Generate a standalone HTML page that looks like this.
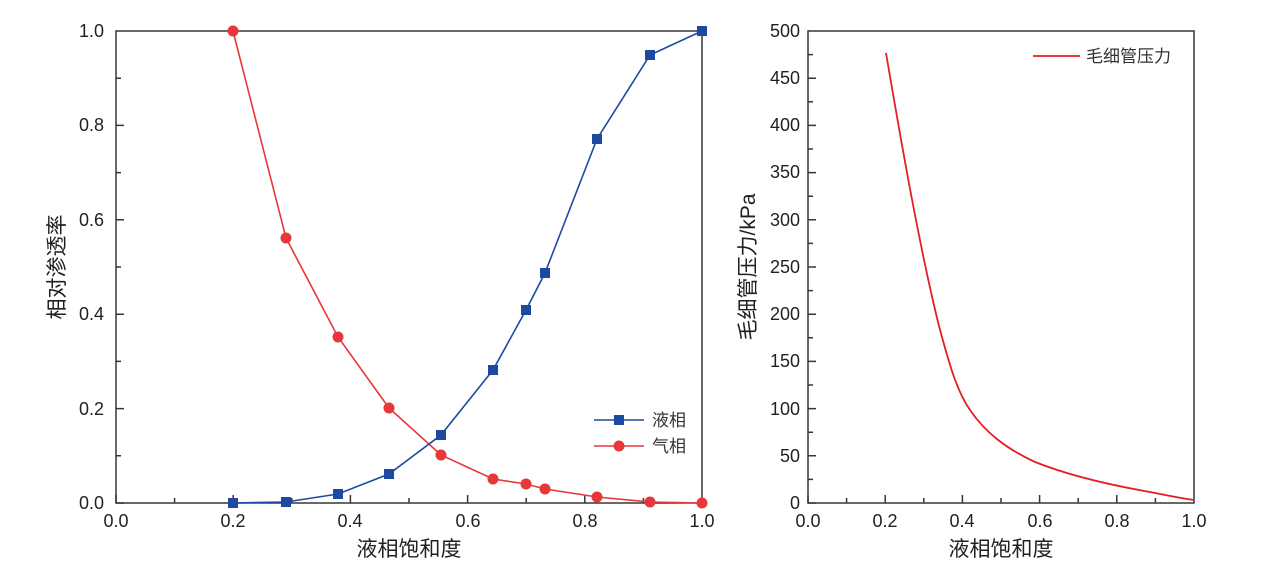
<!DOCTYPE html>
<html><head><meta charset="utf-8"><style>body{margin:0;background:#fff}</style></head><body>
<svg width="1270" height="568" xmlns="http://www.w3.org/2000/svg" font-family="Liberation Sans, Noto Sans CJK SC, sans-serif" fill="#231f20">
<g stroke="#3a3535" stroke-width="1.5" fill="none">
<rect x="116" y="31" width="586" height="472"/>
<rect x="808" y="31" width="386" height="472"/>
<path d="M116,503v-8M174.6,503v-5M233.2,503v-8M291.8,503v-5M350.4,503v-8M409,503v-5M467.6,503v-8M526.2,503v-5M584.8,503v-8M643.4,503v-5
M116,503h8M116,455.8h5M116,408.6h8M116,361.4h5M116,314.2h8M116,267h5M116,219.8h8M116,172.6h5M116,125.4h8M116,78.2h5
M808,503v-8M846.6,503v-5M885.2,503v-8M923.8,503v-5M962.4,503v-8M1001,503v-5M1039.6,503v-8M1078.2,503v-5M1116.8,503v-8M1155.4,503v-5"/>
<path d="M808,503h8M808,479.4h5M808,455.8h8M808,432.2h5M808,408.6h8M808,385h5M808,361.4h8M808,337.8h5M808,314.2h8M808,290.6h5M808,267h8M808,243.4h5M808,219.8h8M808,196.2h5M808,172.6h8M808,149h5M808,125.4h8M808,101.8h5M808,78.2h8M808,54.6h5"/>
</g>
<g font-size="18" text-anchor="end">
<text x="104" y="509">0.0</text><text x="104" y="415">0.2</text><text x="104" y="320">0.4</text><text x="104" y="226">0.6</text><text x="104" y="131">0.8</text><text x="104" y="37">1.0</text>
<text x="800" y="509">0</text><text x="800" y="462">50</text><text x="800" y="415">100</text><text x="800" y="367">150</text><text x="800" y="320">200</text><text x="800" y="273">250</text><text x="800" y="226">300</text><text x="800" y="178">350</text><text x="800" y="131">400</text><text x="800" y="84">450</text><text x="800" y="37">500</text>
</g>
<g font-size="18" text-anchor="middle">
<text x="116" y="527">0.0</text><text x="233" y="527">0.2</text><text x="350" y="527">0.4</text><text x="468" y="527">0.6</text><text x="585" y="527">0.8</text><text x="702" y="527">1.0</text>
<text x="808" y="527">0.0</text><text x="885" y="527">0.2</text><text x="962" y="527">0.4</text><text x="1040" y="527">0.6</text><text x="1117" y="527">0.8</text><text x="1194" y="527">1.0</text>
</g>
<g font-size="21" text-anchor="middle">
<text x="409" y="556">液相饱和度</text><text x="1001" y="556">液相饱和度</text>
<text transform="translate(64,267) rotate(-90)">相对渗透率</text>
<text transform="translate(755,267) rotate(-90)">毛细管压力/kPa</text>
</g>
<polyline fill="none" stroke="#e8373a" stroke-width="1.6" points="233,31 286,238 338,337 389,408 441,455 493,479 526,484 545,489 597,497 650,502 702,503"/>
<g fill="#e8373a"><circle cx="233" cy="31" r="5.5"/><circle cx="286" cy="238" r="5.5"/><circle cx="338" cy="337" r="5.5"/><circle cx="389" cy="408" r="5.5"/><circle cx="441" cy="455" r="5.5"/><circle cx="493" cy="479" r="5.5"/><circle cx="526" cy="484" r="5.5"/><circle cx="545" cy="489" r="5.5"/><circle cx="597" cy="497" r="5.5"/><circle cx="650" cy="502" r="5.5"/><circle cx="702" cy="503" r="5.5"/></g>
<polyline fill="none" stroke="#1d4aa0" stroke-width="1.6" points="233,503 286,502 338,494 389,474 441,435 493,370 526,310 545,273 597,139 650,55 702,31"/>
<g fill="#1d4aa0"><rect x="228" y="498" width="10" height="10"/><rect x="281" y="497" width="10" height="10"/><rect x="333" y="489" width="10" height="10"/><rect x="384" y="469" width="10" height="10"/><rect x="436" y="430" width="10" height="10"/><rect x="488" y="365" width="10" height="10"/><rect x="521" y="305" width="10" height="10"/><rect x="540" y="268" width="10" height="10"/><rect x="592" y="134" width="10" height="10"/><rect x="645" y="50" width="10" height="10"/><rect x="697" y="26" width="10" height="10"/></g>
<line x1="594" y1="420" x2="644" y2="420" stroke="#1d4aa0" stroke-width="1.6"/><rect x="614" y="415" width="10" height="10" fill="#1d4aa0"/>
<line x1="594" y1="446" x2="644" y2="446" stroke="#e8373a" stroke-width="1.6"/><circle cx="619" cy="446" r="5.5" fill="#e8373a"/>
<g font-size="17" fill="#333"><text x="652" y="426">液相</text><text x="652" y="452">气相</text><text x="1086" y="62">毛细管压力</text></g>
<line x1="1033" y1="56" x2="1080" y2="56" stroke="#e51e25" stroke-width="1.8"/>
<path fill="none" stroke="#e51e25" stroke-width="1.8" stroke-linejoin="round" d="M886,53 C900,135 918,240 938,322 C950,368 958,393 970,410 C985,432 1005,448 1035,462 C1070,476 1110,485 1150,492 C1170,496 1185,499 1194,500"/>
</svg>
</body></html>
